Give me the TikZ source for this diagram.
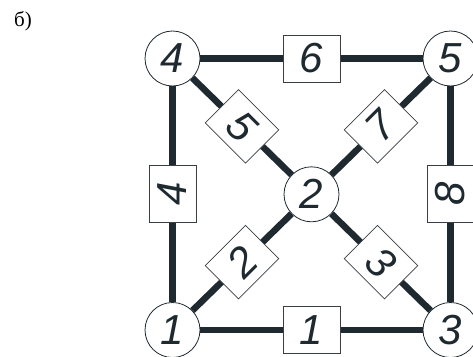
\documentclass[tikz,border=0pt]{standalone}
\usepackage{fontspec}
\setmainfont{Liberation Serif}
\newfontfamily\digitfont{Liberation Sans}
\usetikzlibrary{calc,backgrounds}
\definecolor{ink}{HTML}{1E2930}
\definecolor{frame}{HTML}{3A3F44}

\begin{document}
\begin{tikzpicture}[x=1pt,y=-1pt,
  digits/.style={font=\digitfont\itshape\fontsize{42}{42}\selectfont, text=ink},
  vertex/.style={circle, draw=ink, line width=0.8pt, fill=white,
    minimum size=55pt, inner sep=0pt, digits},
  weight/.style={rectangle, draw=frame, line width=0.7pt, fill=white,
    minimum width=57pt, minimum height=47pt, inner sep=0pt, digits},
  link/.style={draw=ink, line width=6.5pt}]
  \useasboundingbox (0,0) rectangle (473,356);
  \clip (0,0) rectangle (473,356);

  % caption
  \node[font=\fontsize{21}{21}\selectfont] (cap) at (23,21) {б)};

  % vertices
  \node[vertex] (v4) at (172.5,58.5) {4};
  \node[vertex] (v5) at (450.5,58.5) {5};
  \node[vertex] (v2) at (311.5,194.3) {2};
  \node[vertex] (v1) at (172.5,330) {1};
  \node[vertex] (v3) at (450.5,330) {3};

  % connections
  \begin{scope}[on background layer]
    \draw[link] (v4) -- (v5);
    \draw[link] (v1) -- (v3);
    \draw[link] (v4) -- (v1);
    \draw[link] (v5) -- (v3);
    \draw[link] (v4) -- (v2);
    \draw[link] (v2) -- (v5);
    \draw[link] (v1) -- (v2);
    \draw[link] (v2) -- (v3);
  \end{scope}

  % edge weights
  \node[weight] (w6) at ($(v4)!0.5!(v5)$) {6};
  \node[weight] (w1) at ($(v1)!0.5!(v3)$) {1};
  \node[weight, rotate=90] (w4) at ($(v4)!0.5!(v1)$) {4};
  \node[weight, rotate=90] (w8) at ($(v5)!0.5!(v3)$) {8};
  \node[weight, rotate=-45] (w5) at ($(v4)!0.5!(v2)$) {5};
  \node[weight, rotate=45] (w7) at ($(v2)!0.5!(v5)$) {7};
  \node[weight, rotate=45] (w2) at ($(v1)!0.5!(v2)$) {2};
  \node[weight, rotate=-45] (w3) at ($(v2)!0.5!(v3)$) {3};
\end{tikzpicture}
\end{document}
